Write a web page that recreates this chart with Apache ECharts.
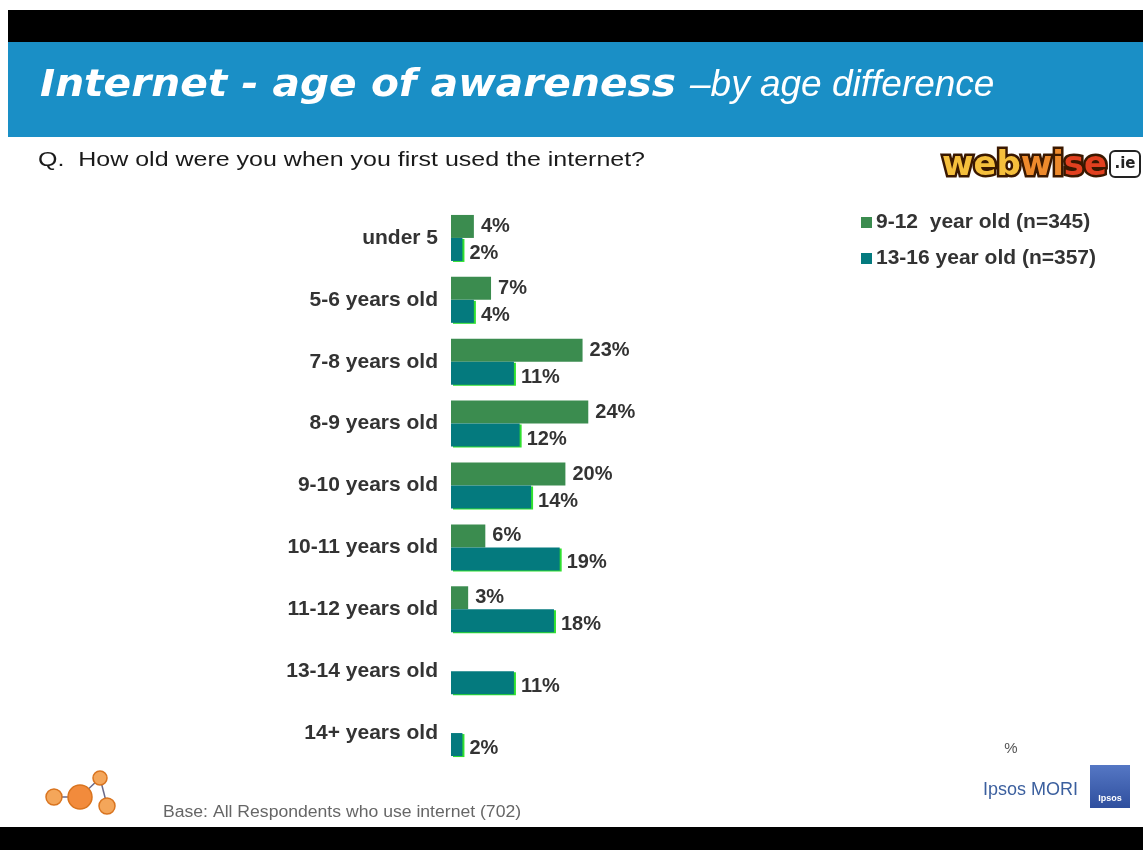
<!DOCTYPE html>
<html>
<head>
<meta charset="utf-8">
<script src="https://cdn.jsdelivr.net/npm/echarts@6/dist/echarts.min.js"></script>
<style>
html,body{margin:0;padding:0;background:#fff;}
#chart{width:1143px;height:850px;}
</style>
</head>
<body>
<div id="chart"></div>
<script>
const categories = ['under 5','5-6 years old','7-8 years old','8-9 years old','9-10 years old','10-11 years old','11-12 years old','13-14 years old','14+ years old'];
const seriesNames = ['9-12  year old (n=345)','13-16 year old (n=357)'];
const values912 = [4, 7, 23, 24, 20, 6, 3, null, null];
const values1316 = [2, 4, 11, 12, 14, 19, 18, 11, 2];

const GREEN = '#3b8c4f';
const TEAL = '#047a7e';

const chart = echarts.init(document.getElementById('chart'), null, {renderer:'canvas'});

const labelStyle = {
  show: true, position: 'right', distance: 7,
  formatter: p => p.value + '%',
  fontFamily: 'Liberation Sans, Arial, sans-serif', fontWeight: 'bold', fontSize: 20, color: '#333'
};

chart.setOption({
  animation: false,
  backgroundColor: '#ffffff',
  grid: {left: 451, top: 207, height: 557, width: 572},
  xAxis: {type: 'value', min: 0, max: 100, show: false},
  yAxis: {
    type: 'category', data: categories, inverse: true,
    axisLine: {show: false}, axisTick: {show: false}, splitLine: {show: false},
    axisLabel: {margin: 13, fontFamily: 'Liberation Sans, Arial, sans-serif', fontWeight: 'bold', fontSize: 21, color: '#333'}
  },
  legend: {
    orient: 'vertical', left: 856, top: 207, itemWidth: 11, itemHeight: 11, itemGap: 15,
    icon: 'rect', data: seriesNames,
    textStyle: {fontFamily: 'Liberation Sans, Arial, sans-serif', fontWeight: 'bold', fontSize: 21, color: '#333', padding: [0,0,0,-1]}
  },
  series: [
    {name: seriesNames[0], type: 'bar', data: values912, barWidth: 23, barGap: '0%',
     itemStyle: {color: GREEN},
     label: labelStyle},
    {name: seriesNames[1], type: 'bar', data: values1316, barWidth: 23, barGap: '0%',
     itemStyle: {color: TEAL, shadowColor: '#2fe02f', shadowOffsetX: 2, shadowOffsetY: 1, shadowBlur: 0},
     label: Object.assign({}, labelStyle, {offset: [0, 4]})}
  ],
  graphic: [
    {type: 'rect', shape: {x: 8, y: 10, width: 1135, height: 32}, style: {fill: '#000'}, silent: true},
    {type: 'rect', shape: {x: 8, y: 42, width: 1135, height: 95}, style: {fill: '#1a8fc6'}, silent: true},
    {type: 'rect', shape: {x: 0, y: 827, width: 1143, height: 23}, style: {fill: '#000'}, silent: true},
    {type: 'text', x: 40, y: 86, scaleX: 1.1,
     style: {text: 'Internet - age of awareness', fill: '#fff', font: 'italic bold 37px "DejaVu Sans", Verdana, sans-serif', verticalAlign: 'middle'}},
    {type: 'text', x: 690, y: 86,
     style: {text: '\u2013by age difference', fill: '#fff', font: 'italic 37px "Liberation Sans", Arial, sans-serif', verticalAlign: 'middle'}},
    {type: 'text', x: 38, y: 160, scaleX: 1.19,
     style: {text: 'Q.  How old were you when you first used the internet?', fill: '#1a1a1a', font: '21px "Liberation Sans", Arial, sans-serif', verticalAlign: 'middle'}},
    // webwise logo: outline layer then coloured layer
    {type: 'text', x: 942, y: 166,
     style: {text: 'webwise', font: 'bold 34px "DejaVu Sans", sans-serif', verticalAlign: 'middle',
       fill: '#3a1800', stroke: '#3a1800', lineWidth: 5}},
    {type: 'text', x: 942, y: 166,
     style: {text: '{a|web}{b|wi}{c|se}', font: 'bold 34px "DejaVu Sans", sans-serif', verticalAlign: 'middle',
       rich: {
         a: {font: 'bold 34px "DejaVu Sans", sans-serif', fill: '#f5bf3c'},
         b: {font: 'bold 34px "DejaVu Sans", sans-serif', fill: '#ee8a2c'},
         c: {font: 'bold 34px "DejaVu Sans", sans-serif', fill: '#e2401f'}
       }}},
    {type: 'rect', shape: {x: 1110, y: 151, width: 30, height: 26, r: 5}, style: {fill: '#fff', stroke: '#222', lineWidth: 2}},
    {type: 'text', x: 1125, y: 164, style: {text: '.ie', font: 'bold 15px "DejaVu Sans", sans-serif', fill: '#222', align: 'center', verticalAlign: 'middle'}},
    // % marker
    {type: 'text', x: 1011, y: 749, style: {text: '%', font: '15px "Liberation Sans", Arial, sans-serif', fill: '#555', align: 'center', verticalAlign: 'middle'}},
    // Ipsos MORI
    {type: 'text', x: 1078, y: 790, style: {text: 'Ipsos MORI', font: '18px "Liberation Sans", Arial, sans-serif', fill: '#3b5f9e', align: 'right', verticalAlign: 'middle'}},
    {type: 'rect', shape: {x: 1090, y: 765, width: 40, height: 43},
     style: {fill: new echarts.graphic.LinearGradient(0, 0, 0, 1, [{offset: 0, color: '#5577c4'}, {offset: 1, color: '#2f4f9e'}])}},
    {type: 'text', x: 1110, y: 799, style: {text: 'Ipsos', font: 'bold 9px "Liberation Sans", Arial, sans-serif', fill: '#fff', align: 'center', verticalAlign: 'middle'}},
    // NCTE logo
    {type: 'line', shape: {x1: 80, y1: 797, x2: 100, y2: 778}, style: {stroke: '#6a6a8a', lineWidth: 1.5}},
    {type: 'line', shape: {x1: 100, y1: 778, x2: 107, y2: 805}, style: {stroke: '#6a6a8a', lineWidth: 1.5}},
    {type: 'line', shape: {x1: 52, y1: 797, x2: 80, y2: 797}, style: {stroke: '#6a6a8a', lineWidth: 1.5}},
    {type: 'circle', shape: {cx: 54, cy: 797, r: 8}, style: {fill: '#f4a65a', stroke: '#d9741f', lineWidth: 1.5}},
    {type: 'circle', shape: {cx: 80, cy: 797, r: 12}, style: {fill: '#f28b3c', stroke: '#d9741f', lineWidth: 1.5}},
    {type: 'circle', shape: {cx: 100, cy: 778, r: 7}, style: {fill: '#f4a65a', stroke: '#d9741f', lineWidth: 1.5}},
    {type: 'circle', shape: {cx: 107, cy: 806, r: 8}, style: {fill: '#f4a65a', stroke: '#d9741f', lineWidth: 1.5}},
    // base note
    {type: 'text', x: 163, y: 813, scaleX: 1.1, style: {text: 'Base: All Respondents who use internet (702)', font: '16px "Liberation Sans", Arial, sans-serif', fill: '#666', verticalAlign: 'middle'}}
  ]
});
</script>
</body>
</html>
